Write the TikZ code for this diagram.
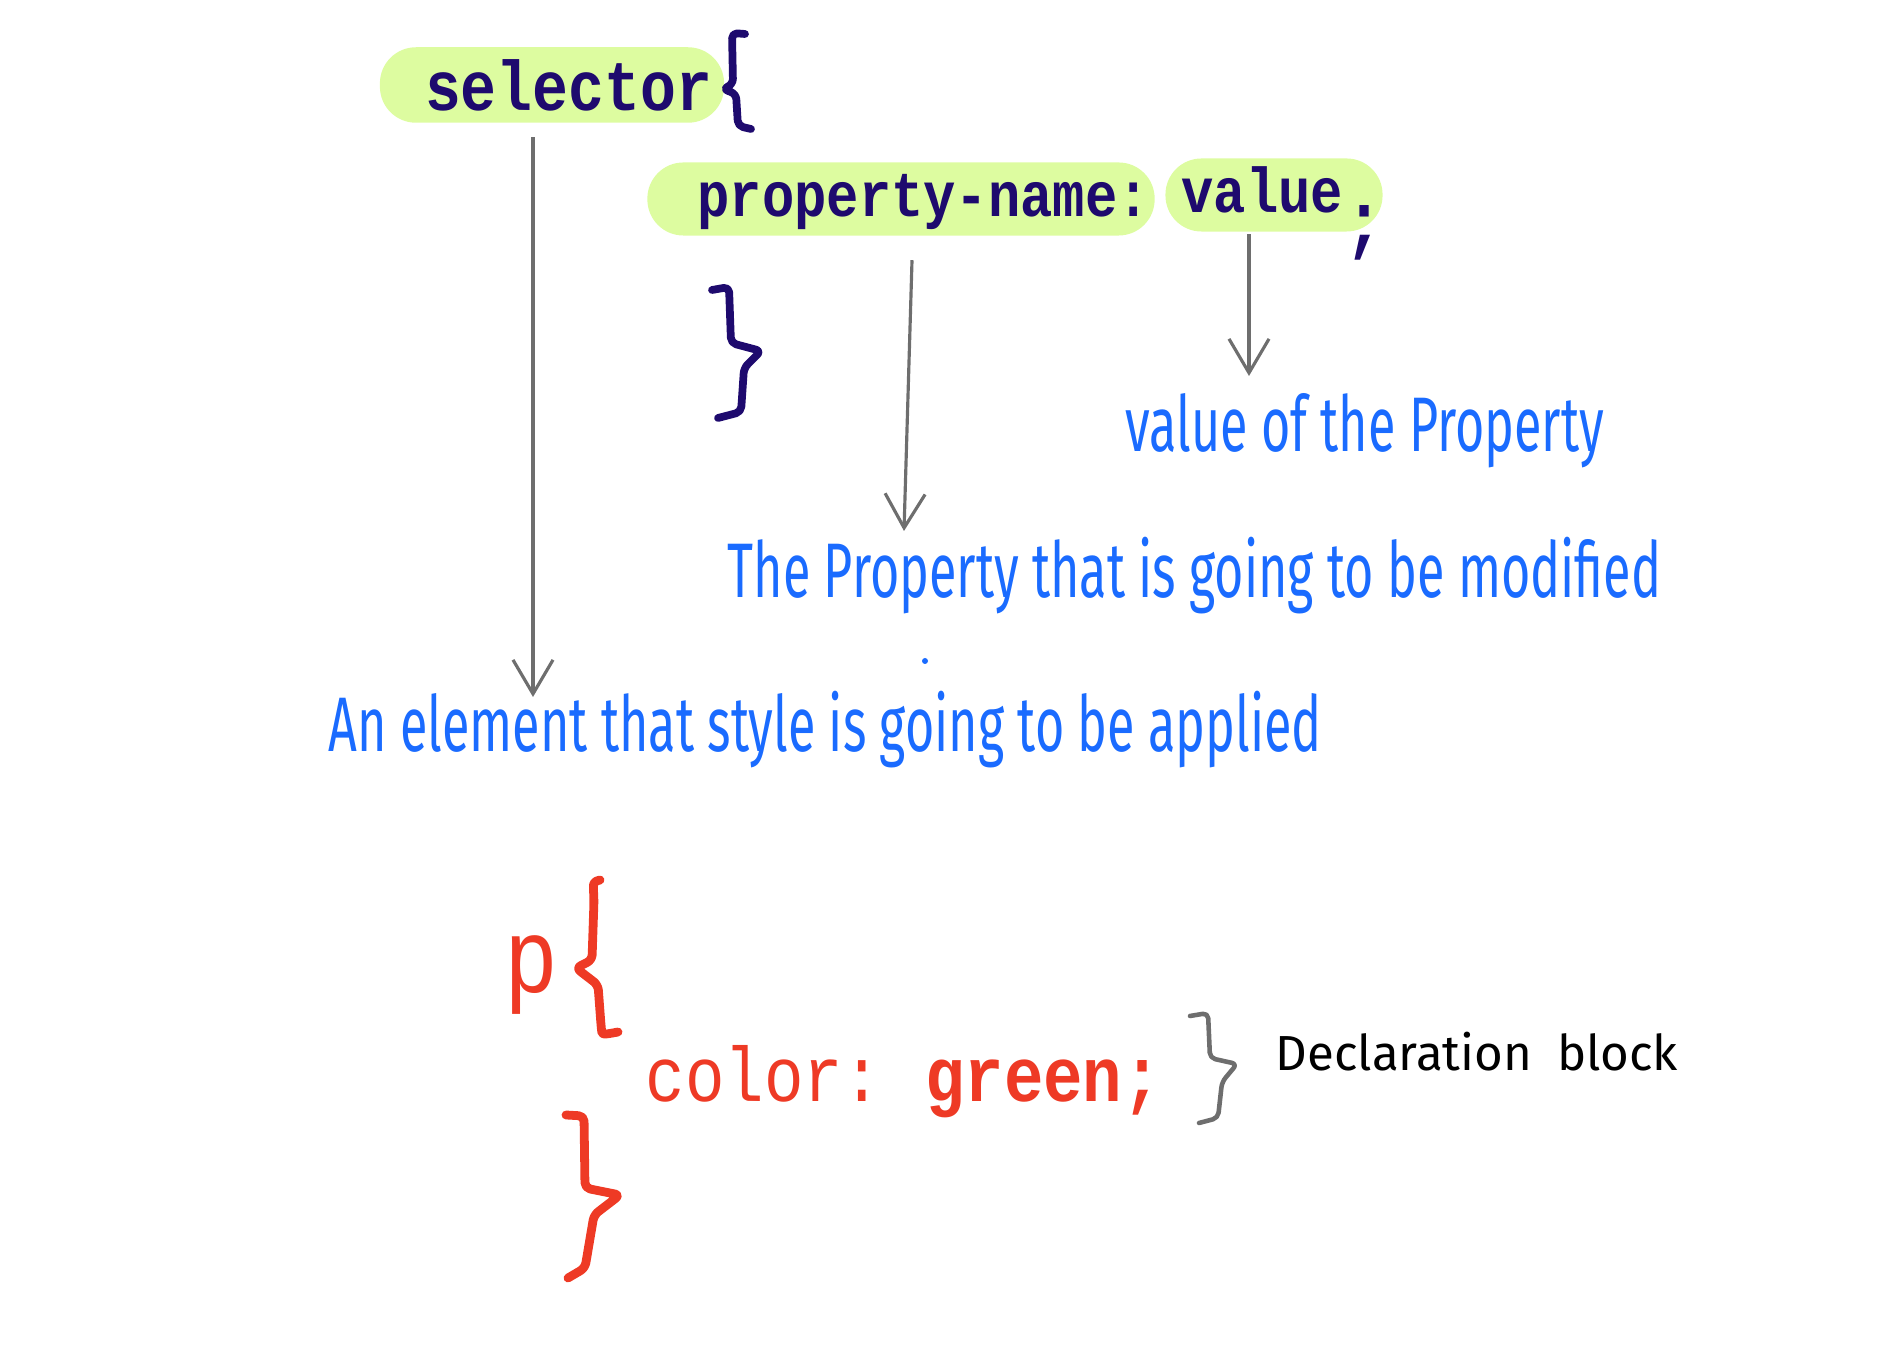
\documentclass[tikz,border=0pt]{standalone}
\usepackage{fontspec}
\usepackage{tikz}
\usetikzlibrary{arrows,arrows.meta,positioning,calc}
\newfontfamily\codefont[FakeStretch=0.85]{Liberation Mono}
\newfontfamily\handfont[FakeStretch=0.65]{Fira Sans}
\newfontfamily\plainhand{Fira Sans}
\definecolor{navy}{HTML}{1E0A6E}
\definecolor{lime}{HTML}{DDFCA0}
\definecolor{annot}{HTML}{1A6BFF}
\definecolor{cssred}{HTML}{EE3A25}
\definecolor{pencil}{HTML}{6E6E6E}

\begin{document}
\begin{tikzpicture}[x=0.01cm,y=-0.01cm,
  hl/.style={fill=lime,rounded corners=0.36cm,minimum height=0.73cm,text=navy,
    text height=0.36cm,text depth=0cm,font=\codefont\bfseries\fontsize{18}{20}\selectfont},
  note/.style={anchor=base west,inner sep=0pt,text=annot,font=\handfont\fontsize{22}{24}\selectfont},
  brace/.style={line width=2.2pt,line cap=round,line join=round,rounded corners=1.5pt},
  >={Straight Barb[length=3.4mm,width=4mm]}]
\useasboundingbox (0,0) rectangle (1891,1368);
% the rule skeleton
\node[hl,inner xsep=0.12cm,text width=3.2cm,align=right,text height=0.52cm,font=\codefont\bfseries\fontsize{20}{22}\selectfont] (sel) at (552,85) {selector};
\draw[brace,navy] (745,34) -- (732,33) -- (733,84) -- (723,89) -- (736,94) -- (738,126) -- (751,129);
\node[hl,inner xsep=0.05cm,text width=4.97cm,align=right] (prop) at (901,199) {property-name:};
\node[hl,inner xsep=0.16cm,text width=1.85cm,align=left] (val) at (1274,195) {value};
\node[text=navy,inner sep=0pt,font=\codefont\bfseries\fontsize{22}{24}\selectfont] (semi) at (1364,233) {;};
\draw[brace,navy] (712,290) -- (729,287) -- (731,343) -- (761,351) -- (744,368) -- (741,412) -- (718,418);
% explanations
\node[note] (valnote) at (1125,452) {value of the Property};
\node[note] (propnote) at (727,598) {The Property that is going to be modified};
\node[note] (selnote) at (328,752) {An element that style is going to be applied};
\fill[annot] (925,661) circle (3);
\coordinate (selTip) at (533,697);
\coordinate (propTip) at (904,531);
\coordinate (valTip) at (1249,376);
\draw[arrows=->,pencil,line width=0.9pt] ([yshift=-0.14cm]sel.south -| selTip) -- (selTip);
\draw[arrows=->,pencil,line width=0.9pt] ([xshift=0.11cm,yshift=-0.24cm]prop.south) -- (propTip);
\draw[arrows=->,pencil,line width=0.9pt] ([yshift=-0.02cm]val.south -| valTip) -- (valTip);
% example rule
\node[text=cssred,inner sep=0pt,font=\codefont\fontsize{30}{32}\selectfont] (p) at (531,975) {p};
\draw[brace,cssred,line width=2.5pt] (600,880) .. controls (593,882) .. (594,900) -- (592,960) -- (576,968) -- (598,985) -- (601,1025) .. controls (602,1035) .. (618,1032);
\node[anchor=base west,inner sep=0pt,text=cssred,font=\codefont\fontsize{22}{24}\selectfont] (decl) at (645,1102) {color:\hspace{-0.1cm} \textbf{green;}};
\draw[brace,cssred,line width=2.5pt] (566,1115) -- (584,1116) -- (585,1188) -- (620,1195) -- (594,1215) -- (585,1268) -- (568,1278);
\draw[brace,pencil,line width=1.3pt] (1190,1016) -- (1208,1013) -- (1210,1058) -- (1237,1064) -- (1222,1082) -- (1218,1118) -- (1199,1123);
\node[note,text=black,font=\plainhand\fontsize{14}{16}\selectfont] (block) at (1275,1071) {Declaration\hspace{0.25cm}block};
\end{tikzpicture}
\end{document}
